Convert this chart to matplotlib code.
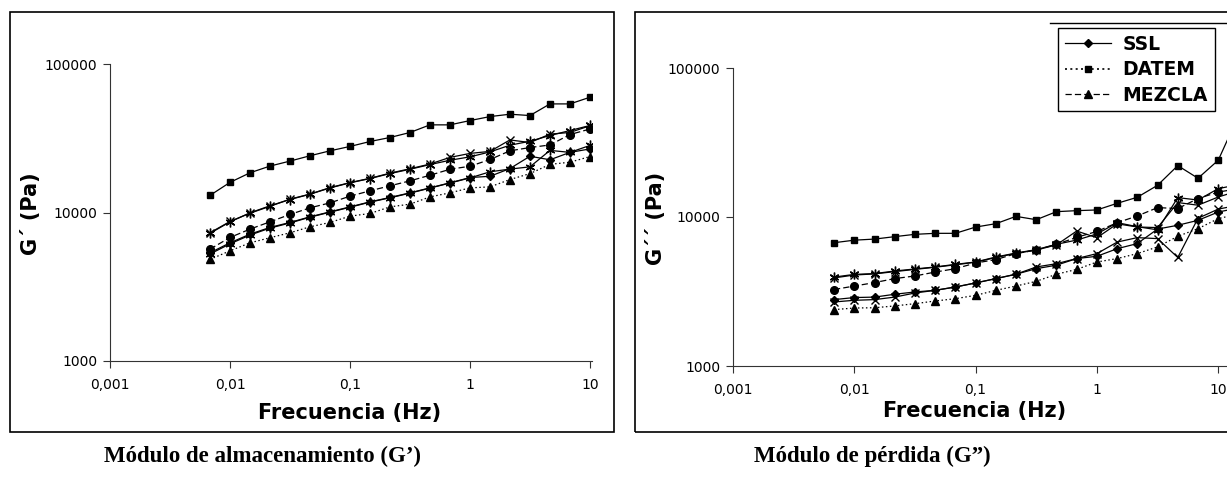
import matplotlib
matplotlib.use('Agg')
import matplotlib.pyplot as plt
from matplotlib.lines import Line2D
from matplotlib.patches import Rectangle
from matplotlib.ticker import FixedLocator, FixedFormatter, NullLocator

# frecuencias del barrido (Hz)
freq = [0.0068, 0.01, 0.0147, 0.0215, 0.0316, 0.0464, 0.0681, 0.1, 0.147, 0.215,
        0.316, 0.464, 0.681, 1.0, 1.47, 2.15, 3.16, 4.64, 6.81, 10.0, 14.7]

# G' (Pa)
g1_square = [13030, 15950, 18520, 20530, 22190, 24100, 26020, 27850, 30070, 31990, 34570,
             38920, 38920, 41600, 44260, 45900, 44970, 53860, 53860, 59730, 57000]
g1_star = [7230, 8650, 9950, 11090, 12230, 13280, 14640, 15840, 16930, 18280, 19550,
           21020, 22490, 23700, 25600, 28380, 30200, 33000, 35650, 38550, 41000]
g1_x = [7300, 8700, 9900, 11000, 12300, 13300, 14700, 15900, 17000, 18400, 19700,
        21200, 23500, 25000, 25800, 30800, 29600, 33700, 34600, 38400, 41000]
g1_circle = [5660, 6790, 7730, 8650, 9700, 10750, 11610, 12880, 14000, 15120, 16330,
             17820, 19550, 20490, 22750, 26020, 27380, 28500, 33500, 36500, 39000]
g1_diamond = [5350, 6250, 7150, 7930, 8570, 9350, 10100, 10910, 11800, 12620, 13560,
              14650, 15840, 17190, 17540, 19760, 23920, 22650, 25400, 26800, 28500]
g1_star2 = [5250, 6150, 7050, 7850, 8500, 9300, 10050, 10850, 11750, 12550, 13500,
            14600, 15800, 17100, 18800, 19600, 20300, 26200, 25400, 28300, 30000]
g1_tri = [4830, 5520, 6250, 6760, 7300, 8010, 8570, 9450, 9850, 10910, 11380,
          12740, 13560, 14650, 14880, 16670, 18280, 21090, 21820, 23800, 25500]

# G'' (Pa)
g2_square = [6720, 6990, 7110, 7380, 7650, 7770, 7770, 8560, 9020, 10100, 9590,
             10860, 11030, 11150, 12360, 13560, 16320, 22130, 18200, 24040, 48000]
g2_star = [3950, 4120, 4170, 4340, 4480, 4620, 4810, 4990, 5390, 5730, 6040,
           6560, 7000, 7700, 9160, 8610, 8200, 13490, 13000, 15500, 16500]
g2_x = [3900, 4080, 4150, 4300, 4450, 4600, 4780, 4970, 5350, 5700, 6000,
        6500, 8050, 7260, 9000, 8570, 8490, 12500, 12000, 13620, 15000]
g2_circle = [3260, 3440, 3630, 3860, 4020, 4270, 4500, 4910, 5180, 5680, 6000,
             6560, 7300, 8000, 9160, 10160, 11560, 11400, 13300, 14700, 15500]
g2_diamond = [2790, 2880, 2900, 3030, 3140, 3220, 3390, 3610, 3860, 4130, 4500,
              4750, 5260, 5450, 6130, 6630, 8300, 8800, 9500, 10800, 11500]
g2_star2 = [2690, 2760, 2790, 2900, 3090, 3220, 3390, 3610, 3860, 4130, 4620,
            4860, 5260, 5680, 6790, 7270, 7160, 5350, 9800, 11300, 12000]
g2_tri = [2390, 2450, 2460, 2530, 2620, 2730, 2830, 2980, 3220, 3440, 3700,
          4130, 4450, 4990, 5260, 5680, 6300, 7420, 8350, 9750, 10500]

xticks = [0.001, 0.01, 0.1, 1, 10]
xlabels = ['0,001', '0,01', '0,1', '1', '10']
yticks = [1000, 10000, 100000]
ylabels = ['1000', '10000', '100000']
legend_names = ['SSL', 'DATEM', 'MEZCLA']

W, H = 1227, 479
plt.rcParams['font.family'] = ['DejaVu Sans']

fig = plt.figure(figsize=(W / 100, H / 100), dpi=100)


def fx(px):
    return px / W


def fy(py):
    return 1 - py / H


star = (6, 2, 0)
dotted = (0, (1.2, 2))
dashed = (0, (5, 2.5))

left_series = [
    (g1_square, 's', 5, '-'),
    (g1_star, star, 7, '-'),
    (g1_x, 'x', 6, '-'),
    (g1_circle, 'o', 5.5, dashed),
    (g1_diamond, 'D', 4.5, '-'),
    (g1_star2, star, 7, '-'),
    (g1_tri, '^', 5.5, dotted),
]
right_series = [
    (g2_square, 's', 5, '-'),
    (g2_star, star, 7, '-'),
    (g2_x, 'x', 6, '-'),
    (g2_circle, 'o', 5.5, dashed),
    (g2_diamond, 'D', 4.5, '-'),
    (g2_star2, 'x', 6, '-'),
    (g2_tri, '^', 5.5, dotted),
]


def draw_panel(ax, series, xmax):
    for vals, mk, ms, ls in series:
        ax.plot(freq, vals, color='black', lw=0.9, ls=ls, marker=mk, ms=ms,
                mew=1, mfc='black', mec='black')
    ax.set_xscale('log')
    ax.set_yscale('log')
    ax.set_xlim(0.001, xmax)
    ax.set_ylim(1000, 100000)
    ax.xaxis.set_major_locator(FixedLocator(xticks))
    ax.xaxis.set_major_formatter(FixedFormatter(xlabels))
    ax.yaxis.set_major_locator(FixedLocator(yticks))
    ax.yaxis.set_major_formatter(FixedFormatter(ylabels))
    ax.xaxis.set_minor_locator(NullLocator())
    ax.yaxis.set_minor_locator(NullLocator())
    ax.spines['top'].set_visible(False)
    ax.spines['right'].set_visible(False)
    ax.spines['left'].set_color('#333333')
    ax.spines['bottom'].set_color('#333333')
    ax.tick_params(axis='both', direction='out', length=5, width=0.8,
                   color='#333333', labelsize=10)
    ax.tick_params(axis='x', pad=7)
    ax.tick_params(axis='y', pad=4)
    ax.patch.set_alpha(0)


ax1 = fig.add_axes([fx(110), fy(361), fx(482.4), 297 / H])
draw_panel(ax1, left_series, 10 ** 1.02)
ax2 = fig.add_axes([fx(733), fy(366), fx(509.5), 298 / H])
draw_panel(ax2, right_series, 10 ** 1.2)

# marcos de cada grafico
fig.add_artist(Rectangle((fx(10), fy(432)), fx(604), 420 / H, transform=fig.transFigure,
                         fill=False, lw=1.2, ec='black'))
fig.add_artist(Rectangle((fx(635), fy(432)), fx(620), 420 / H, transform=fig.transFigure,
                         fill=False, lw=1.2, ec='black'))
fig.add_artist(Line2D([fx(1050), 1.0], [fy(23), fy(23)], transform=fig.transFigure,
                      color='black', lw=1))

# textos de los ejes
fig.text(fx(350), fy(413), 'Frecuencia (Hz)', ha='center', va='center',
         fontsize=15, fontweight='bold')
fig.text(fx(975), fy(411), 'Frecuencia (Hz)', ha='center', va='center',
         fontsize=15, fontweight='bold')
fig.text(fx(31), fy(214), 'G´ (Pa)', ha='center', va='center', rotation=90,
         fontsize=15, fontweight='bold')
fig.text(fx(656), fy(218), 'G´´ (Pa)', ha='center', va='center', rotation=90,
         fontsize=15, fontweight='bold')

# titulos inferiores
fig.text(fx(262), fy(462), 'Módulo de almacenamiento (G’)', ha='center', va='baseline',
         fontsize=16.5, fontweight='bold', family='Liberation Serif')
fig.text(fx(872), fy(462), 'Módulo de pérdida (G”)', ha='center', va='baseline',
         fontsize=16.5, fontweight='bold', family='Liberation Serif')

handles = [
    Line2D([], [], color='black', lw=0.9, ls='-', marker='D', ms=4.5),
    Line2D([], [], color='black', lw=1.2, ls=dotted, marker='s', ms=5),
    Line2D([], [], color='black', lw=0.9, ls=dashed, marker='^', ms=5.5),
]
leg = fig.legend(handles, legend_names, loc='upper left',
                 bbox_to_anchor=(fx(1058), fy(28)), bbox_transform=fig.transFigure,
                 prop={'weight': 'bold', 'size': 13.5}, fancybox=False, framealpha=1,
                 edgecolor='black', handlelength=2.5, handletextpad=0.6,
                 labelspacing=0.35, borderpad=0.35, borderaxespad=0)
leg.get_frame().set_linewidth(1)

fig.savefig('out.png', dpi=100)
